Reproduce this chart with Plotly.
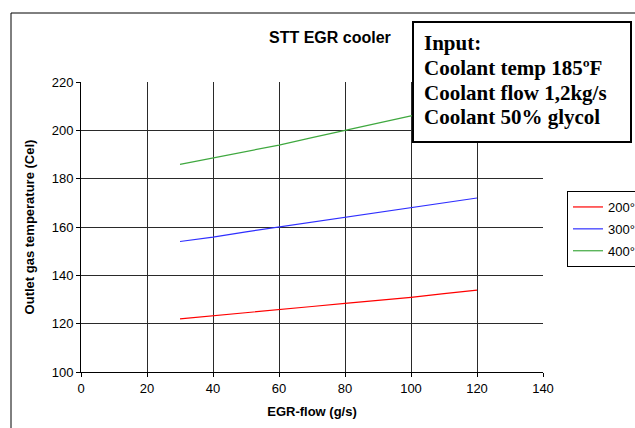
import plotly.graph_objects as go

egr_flow = [30, 40, 50, 60, 70, 80, 90, 100, 110, 120]
t200 = [122.0, 123.2, 124.6, 125.8, 127.1, 128.4, 129.5, 130.9, 132.4, 133.9]
t300 = [154.0, 155.8, 158.0, 160.0, 161.8, 163.8, 165.8, 167.8, 169.7, 172.0]
t400 = [185.9, 188.6, 191.0, 193.9, 197.0, 200.0, 203.0, 206.0, 209.0, 212.0]
series_names = ["200°C", "300°C", "400°C"]
series_colors = ["#ff0000", "#2f2fff", "#3fa83f"]
input_lines = ["Input:", "Coolant temp 185ºF", "Coolant flow 1,2kg/s", "Coolant 50% glycol"]

W, H = 635, 428
L, T = 81, 82
R = W - 543
B = H - 372
PW, PH = W - L - R, H - T - B


def px(x):
    return (x - L) / PW


def py(y):
    return (H - B - y) / PH


fig = go.Figure()
for name, ys, col in zip(series_names, [t200, t300, t400], series_colors):
    fig.add_trace(go.Scatter(x=egr_flow, y=ys, mode="lines", name=name,
                             legendgroup=name,
                             line=dict(color=col, width=1.2)))

axis_font = dict(family="Liberation Sans, Arial", size=13, color="#000")
fig.update_layout(
    width=W, height=H,
    margin=dict(l=L, r=R, t=T, b=B, autoexpand=False),
    paper_bgcolor="white", plot_bgcolor="white",
    showlegend=True,
    legend=dict(xref="container", yref="container",
                x=567 / W, y=1 - 191 / H, xanchor="left", yanchor="top",
                bgcolor="white", bordercolor="#000", borderwidth=1,
                font=dict(family="Liberation Sans, Arial", size=13, color="#000"),
                tracegroupgap=2, itemwidth=30),
    xaxis=dict(range=[0, 140], dtick=20, tick0=0, showgrid=True,
               gridcolor="#2a2a2a", gridwidth=1, zeroline=False,
               showline=True, linecolor="#000", linewidth=1,
               ticks="outside", ticklen=4, tickcolor="#000",
               tickfont=axis_font,
               title=dict(text="<b>EGR-flow (g/s)</b>", font=axis_font, standoff=12)),
    yaxis=dict(range=[100, 220], dtick=20, tick0=100, showgrid=True,
               gridcolor="#2a2a2a", gridwidth=1, zeroline=False,
               showline=True, linecolor="#000", linewidth=1,
               ticks="outside", ticklen=4, tickcolor="#000",
               tickfont=axis_font,
               title=dict(text="<b>Outlet gas temperature (Cel)</b>", font=axis_font, standoff=14)),
)

# outer chart frame (top and left edges; the rest lies beyond the picture)
fig.add_shape(type="line", xref="paper", yref="paper",
              x0=px(11), x1=px(700), y0=py(13), y1=py(13),
              line=dict(color="#000", width=1), layer="above")
fig.add_shape(type="line", xref="paper", yref="paper",
              x0=px(11), x1=px(11), y0=py(13), y1=py(500),
              line=dict(color="#000", width=1), layer="above")

# title
fig.add_annotation(xref="paper", yref="paper", x=px(330), y=py(37),
                   xanchor="center", yanchor="middle", showarrow=False,
                   text="<b>STT EGR cooler</b>",
                   font=dict(family="Liberation Sans, Arial", size=16, color="#000"))

# input box
fig.add_shape(type="rect", xref="paper", yref="paper",
              x0=px(413), x1=px(631), y0=py(142), y1=py(22),
              line=dict(color="#000", width=2), fillcolor="white", layer="above")
line_y = [43, 68, 93, 117]
for txt, yy in zip(input_lines, line_y):
    fig.add_annotation(xref="paper", yref="paper", x=px(422), y=py(yy),
                       xanchor="left", yanchor="middle", showarrow=False,
                       text="<b>" + txt + "</b>",
                       font=dict(family="Liberation Serif, Times New Roman", size=21, color="#000"))

fig.write_html("out.html", config={"displayModeBar": False},
               post_script="document.body.style.margin='0';document.body.style.overflow='hidden';")
